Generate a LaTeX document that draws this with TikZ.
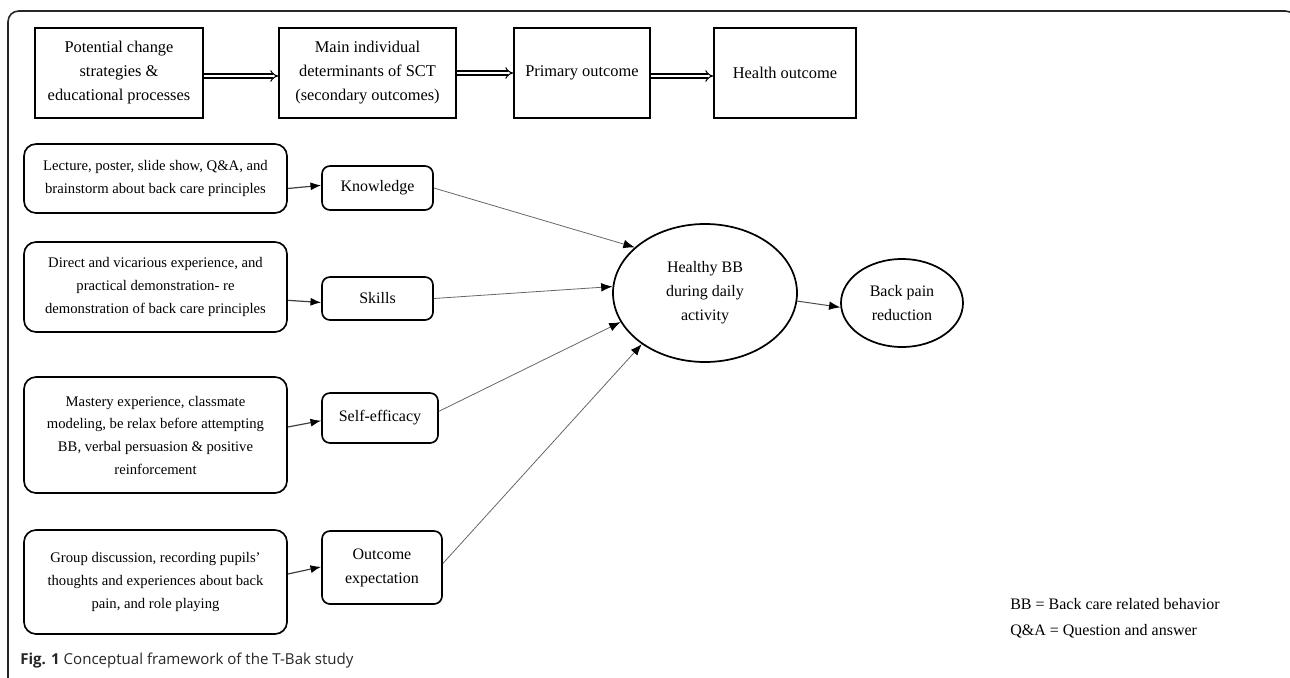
\documentclass[tikz,border=0pt]{standalone}
\usepackage{fontspec}
\setmainfont{Liberation Serif}
\newfontfamily\capfont{Open Sans}
\usetikzlibrary{arrows.meta,shapes.geometric}
\begin{document}
\begin{tikzpicture}[x=0.75pt,y=-0.75pt,
  sz/.style 2 args={minimum width=#1*0.75pt,minimum height=#2*0.75pt},
  topbox/.style={draw=black,line width=1.3pt,inner sep=0pt,align=center,font=\fontsize{12.3}{18}\selectfont},
  lbox/.style={draw=black,line width=1.25pt,rounded corners=9pt,inner sep=0pt,align=center,font=\fontsize{11}{17}\selectfont},
  mbox/.style={draw=black,line width=1.25pt,rounded corners=6pt,inner sep=0pt,align=center,font=\fontsize{12}{18}\selectfont},
  oval/.style={draw=black,line width=1.3pt,ellipse,inner sep=0pt,align=center,font=\fontsize{12}{18}\selectfont},
  dbl/.style={draw=black,double=white,double distance=2.2pt,line width=0.8pt,-{Implies}},
  sarr/.style={draw=black!75,line width=0.9pt,-{Latex[length=8pt,width=6pt,black]}},
  tarr/.style={draw=black!60,line width=0.6pt,-{Latex[length=8.5pt,width=6.5pt,black]}},
  legend/.style={anchor=west,inner sep=0pt,font=\fontsize{12}{14}\selectfont}
]
\useasboundingbox (0,0) rectangle (1290,678);
\begin{scope}
  \clip (0,0) rectangle (1290,678);
  \draw[line width=1.2pt,black!85,rounded corners=8pt] (8,700) -- (8,11) -- (1296,11) -- (1296,700);
\end{scope}

% top row
\node[topbox,sz={168}{90}] (B1) at (119,73) {Potential change\\strategies \&\\educational processes};
\node[topbox,sz={177}{90}] (B2) at (367.5,73) {Main individual\\determinants of SCT\\(secondary outcomes)};
\node[topbox,sz={136}{90}] (B3) at (582,73) {Primary outcome};
\node[topbox,sz={142}{90}] (B4) at (785,73) {Health outcome};
\draw[dbl] ([yshift=-2.25pt]B1.east) -- ([yshift=-2.25pt]B2.west);
\draw[dbl] (B2.east) -- (B3.west);
\draw[dbl] ([yshift=-2.25pt]B3.east) -- ([yshift=-2.25pt]B4.west);

% left boxes
\node[lbox,sz={263}{69}] (L1) at (155.5,178.5) {Lecture, poster, slide show, Q\&A, and\\brainstorm about back care principles};
\node[lbox,sz={263}{90}] (L2) at (155.5,287) {Direct and vicarious experience, and\\practical demonstration- re\\demonstration of back care principles};
\node[lbox,sz={263}{116}] (L3) at (155.5,435) {Mastery experience, classmate\\modeling, be relax before attempting\\BB, verbal persuasion \& positive\\reinforcement};
\node[lbox,sz={263}{104}] (L4) at (155.5,582) {Group discussion, recording pupils'\\thoughts and experiences about back\\pain, and role playing};

% middle boxes
\node[mbox,sz={111}{44}] (K) at (377.5,188) {Knowledge};
\node[mbox,sz={111}{43}] (S) at (377.5,298.5) {Skills};
\node[mbox,sz={116}{50}] (E) at (380,418) {Self-efficacy};
\node[mbox,sz={120}{73}] (O) at (382,567.5) {Outcome\\expectation};

% ellipses
\node[oval,minimum width=138pt,minimum height=103.5pt] (H) at (705,293) {Healthy BB\\during daily\\activity};
\node[oval,minimum width=91.5pt,minimum height=66pt] (R) at (902,303) {Back pain\\reduction};

% arrows left -> middle
\draw[sarr] ([yshift=-7.5pt]L1.east) -- ([yshift=2pt]K.west);
\draw[sarr] ([yshift=-10pt]L2.east) -- ([yshift=-3pt]S.west);
\draw[sarr] ([yshift=6pt]L3.east) -- ([yshift=-2pt]E.west);
\draw[sarr] ([yshift=6pt]L4.east) -- ([yshift=0.5pt]O.west);

% middle -> ellipse
\draw[tarr] (K.east) -- (H.147);
\draw[tarr] (S.east) -- (H.176);
\draw[tarr] ([yshift=5pt]E.east) -- (H.199);
\draw[tarr] ([yshift=3pt]O.east) -- (H.219);
\draw[tarr,draw=black!70,line width=0.75pt] (H.-5) -- (R.184);

% legend
\node[legend] (lg1) at (1010,604) {BB = Back care related behavior};
\node[legend] (lg2) at (1010,631) {Q\&A = Question and answer};

% caption
\node[anchor=west,inner sep=0pt,font=\capfont\fontsize{11.3}{13}\selectfont,text=black!85] (cap) at (20,661) {\textbf{Fig. 1} Conceptual framework of the T-Bak study};
\end{tikzpicture}
\end{document}
